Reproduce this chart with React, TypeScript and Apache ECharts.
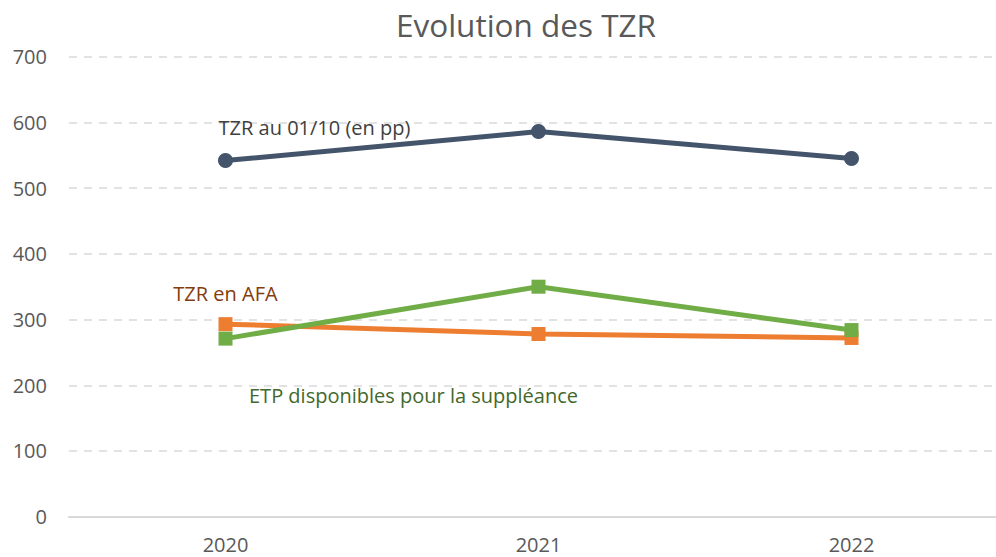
import React, { useEffect, useRef } from "react";
import * as echarts from "echarts";

const years = ["2020", "2021", "2022"];
const tzrRentree = [542, 586, 545];
const tzrAfa = [293, 278, 272];
const etpSuppleance = [271, 350, 284];

const FONT = "'Open Sans', 'Noto Sans', sans-serif";

export default function App() {
  const ref = useRef<HTMLDivElement>(null);
  useEffect(() => {
    if (!ref.current) return;
    const chart = echarts.init(ref.current, null, { renderer: "svg" });
    const firstLabel = (vals: number[], label: any) =>
      vals.map((v, i) => (i === label.idx ? { value: v, label: label.cfg } : v));
    chart.setOption({
      animation: false,
      backgroundColor: "#ffffff",
      textStyle: { fontFamily: FONT },
      title: {
        text: "Evolution des TZR",
        left: 521,
        top: 3,
        textAlign: "center",
        textStyle: { fontFamily: FONT, fontSize: 31.5, fontWeight: "normal", color: "#595959" },
      },
      grid: { left: 69, top: 56.7, width: 939, bottom: 40.3, containLabel: false },
      xAxis: {
        type: "category",
        data: years,
        boundaryGap: true,
        axisLine: { show: true, lineStyle: { color: "#D9D9D9", width: 2 } },
        axisTick: { show: false },
        axisLabel: { color: "#595959", fontSize: 20, fontFamily: FONT, margin: 18 },
      },
      yAxis: {
        type: "value",
        min: 0,
        max: 700,
        interval: 100,
        axisLine: { show: false },
        axisTick: { show: false },
        axisLabel: { color: "#595959", fontSize: 20, fontFamily: FONT, margin: 22 },
        splitLine: { lineStyle: { color: "#D9D9D9", width: 1.5, type: [8, 7] } },
      },
      series: [
        {
          name: "TZR au 01/10 (en pp)",
          type: "line",
          data: firstLabel(tzrRentree, {
            idx: 0,
            cfg: {
              show: true,
              formatter: "TZR au 01/10 (en pp)",
              position: "inside",
              offset: [89, -33],
              color: "#404040",
              fontSize: 20,
              fontFamily: FONT,
            },
          }),
          symbol: "circle",
          symbolSize: 15,
          lineStyle: { color: "#44546A", width: 5 },
          itemStyle: { color: "#44546A" },
          z: 3,
        },
        {
          name: "TZR en AFA",
          type: "line",
          data: firstLabel(tzrAfa, {
            idx: 0,
            cfg: {
              show: true,
              formatter: "TZR en AFA",
              position: "inside",
              offset: [0, -31],
              color: "#843C0C",
              fontSize: 20,
              fontFamily: FONT,
            },
          }),
          symbol: "rect",
          symbolSize: 14,
          lineStyle: { color: "#ED7D31", width: 5 },
          itemStyle: { color: "#ED7D31" },
          z: 2,
        },
        {
          name: "ETP disponibles pour la suppléance",
          type: "line",
          data: firstLabel(etpSuppleance, {
            idx: 0,
            cfg: {
              show: true,
              formatter: "ETP disponibles pour la suppléance",
              position: "inside",
              offset: [188, 57],
              color: "#43682B",
              fontSize: 20,
              fontFamily: FONT,
            },
          }),
          symbol: "rect",
          symbolSize: 14,
          lineStyle: { color: "#70AD47", width: 5 },
          itemStyle: { color: "#70AD47" },
          z: 3,
        },
      ],
    });
    return () => chart.dispose();
  }, []);
  return (
    <div
      style={{
        position: "fixed",
        left: 0,
        top: 0,
        width: 996,
        height: 557,
        overflow: "hidden",
        background: "#fff",
      }}
    >
      <div ref={ref} style={{ width: 1012, height: 557 }} />
    </div>
  );
}
